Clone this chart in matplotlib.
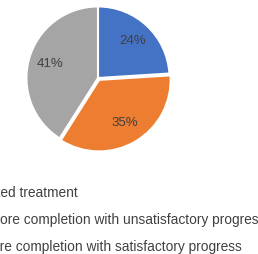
import matplotlib
matplotlib.use("Agg")
import matplotlib.pyplot as plt

labels = ["Completed treatment",
          "Left before completion with unsatisfactory progress",
          "Left before completion with satisfactory progress"]
values = [24, 35, 41]
colors = ["#4472C4", "#ED7D31", "#A5A5A5"]

W, H = 258, 254
fig = plt.figure(figsize=(W / 100, H / 100), dpi=100)
plt.rcParams["font.family"] = ["Liberation Sans", "DejaVu Sans"]

# pie centre (98, 78) px, radius ~73 px
cx, cy, r = 98, 78, 73
ax = fig.add_axes([(cx - r) / W, 1 - (cy + r) / H, 2 * r / W, 2 * r / H])
ax.pie(values, colors=colors, startangle=90, counterclock=False,
       explode=[0, 0.03, 0], autopct="%d%%", pctdistance=0.7,
       wedgeprops=dict(edgecolor="white", linewidth=1.5),
       textprops=dict(color="#404040", fontsize=9.5))
ax.set_aspect("equal")
ax.set_xlim(-1.02, 1.02)
ax.set_ylim(-1.02, 1.02)
ax.axis("off")

# legend text, cut off at the left edge like the source screenshot
prefix = ["Complet", "Left bef", "Left befo"]
ys = [193, 220, 247]
fs = 9.9
fig.canvas.draw()
rend = fig.canvas.get_renderer()
for lab, pre, y in zip(labels, prefix, ys):
    t = fig.text(0, 1 - y / H, pre, fontsize=fs, color="#404040", va="center")
    w = t.get_window_extent(rend).width
    t.remove()
    fig.text(-w / W, 1 - y / H, lab, fontsize=fs, color="#404040", va="center")

fig.savefig("out.png", dpi=100)
